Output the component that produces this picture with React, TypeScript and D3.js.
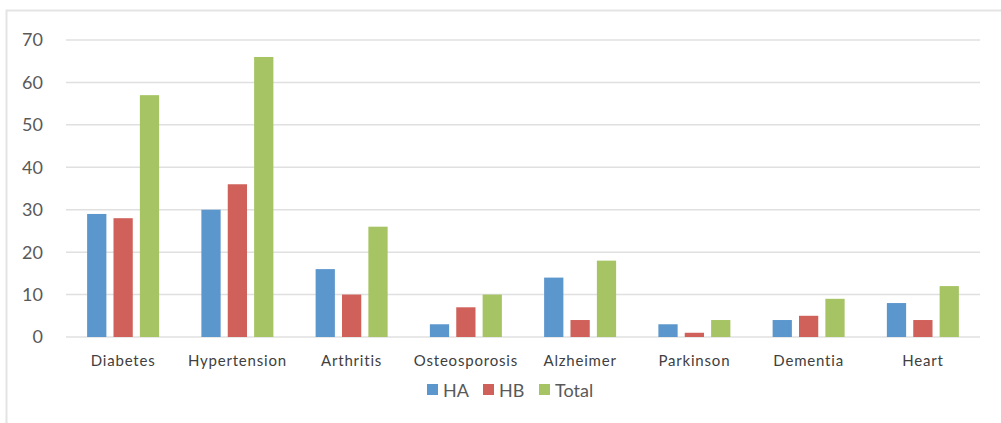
import React from 'react'
import { scaleBand, scaleLinear } from 'd3'

const categories = ['Diabetes', 'Hypertension', 'Arthritis', 'Osteosporosis', 'Alzheimer', 'Parkinson', 'Dementia', 'Heart']
const seriesNames = ['HA', 'HB', 'Total']
const haValues = [29, 30, 16, 3, 14, 3, 4, 8]
const hbValues = [28, 36, 10, 7, 4, 1, 5, 4]
const totalValues = [57, 66, 26, 10, 18, 4, 9, 12]
const yTicks = [0, 10, 20, 30, 40, 50, 60, 70]

const colors = ['#5B96CD', '#D0605A', '#A6C463']
const seriesValues = [haValues, hbValues, totalValues]

const width = 1001
const height = 423
const margins = { top: 40, right: 21, bottom: 86, left: 66 }

export default function App () {
  const x = scaleBand<string>().domain(categories).range([margins.left, width - margins.right])
  const y = scaleLinear().domain([0, 70]).range([height - margins.bottom, margins.top])
  // bars inside each category: 20px wide, 5.5px apart
  const inner = scaleBand<string>().domain(seriesNames).range([-36, 36]).paddingInner(0.27)

  const legendX = [427, 483, 539]

  return (
    <svg width={width} height={height} style={{ position: 'absolute', left: 0, top: 0, background: '#fff' }}
      fontFamily="Lato, 'Open Sans', sans-serif">
      {/* chart area frame */}
      <path d={`M6.5,${height} V10.5 H${width}`} fill="none" stroke="#e4e4e4" strokeWidth={2} />
      <g className="grid">
        {yTicks.map(t => (
          <line key={t} x1={margins.left} x2={width - margins.right} y1={y(t)} y2={y(t)}
            stroke="#e0e0e0" strokeWidth={1.5} />
        ))}
      </g>
      <g className="y axis">
        {yTicks.map(t => (
          <text key={t} x={43} y={y(t)} dy="0.36em" textAnchor="end" fontSize={18} fill="#595959">{t}</text>
        ))}
      </g>
      <g className="body">
        {categories.map((c, i) => {
          const cx = (x(c) as number) + x.bandwidth() / 2
          return (
            <g key={c}>
              {seriesNames.map((s, j) => (
                <rect key={s} x={cx + (inner(s) as number)} y={y(seriesValues[j][i])} width={inner.bandwidth()}
                  height={y(0) - y(seriesValues[j][i])} fill={colors[j]} />
              ))}
            </g>
          )
        })}
      </g>
      <g className="x axis">
        {categories.map(c => (
          <text key={c} x={(x(c) as number) + x.bandwidth() / 2} y={366} textAnchor="middle"
            fontSize={15} letterSpacing={0.8} fill="#404040">{c}</text>
        ))}
      </g>
      <g className="legend">
        {seriesNames.map((s, j) => (
          <g key={s} transform={`translate(${legendX[j]},384)`}>
            <rect x={0} y={0} width={11} height={11} fill={colors[j]} />
            <text x={16} y={13} fontSize={18} fill="#595959">{s}</text>
          </g>
        ))}
      </g>
    </svg>
  )
}
